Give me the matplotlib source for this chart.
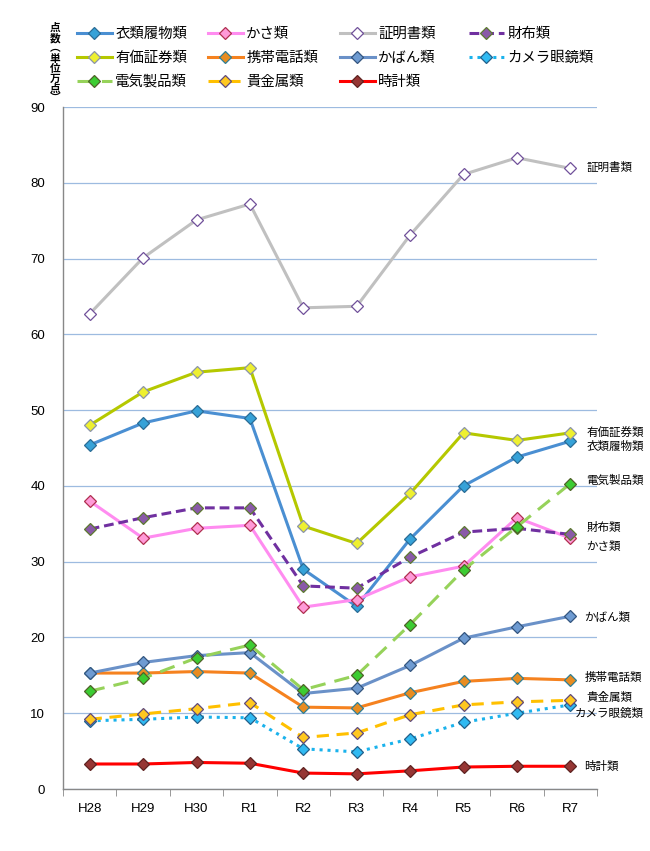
import matplotlib
matplotlib.use("Agg")
import matplotlib.pyplot as plt

plt.rcParams['font.family'] = ['Noto Sans CJK JP', 'DejaVu Sans']

years = ["H28", "H29", "H30", "R1", "R2", "R3", "R4", "R5", "R6", "R7"]

clothing = [45.4, 48.3, 49.9, 48.9, 29.0, 24.1, 33.0, 40.0, 43.8, 45.9]
umbrella = [38.0, 33.1, 34.4, 34.8, 24.0, 25.0, 28.0, 29.4, 35.8, 33.1]
certificates = [62.7, 70.1, 75.1, 77.2, 63.5, 63.7, 73.1, 81.1, 83.3, 81.9]
wallets = [34.3, 35.8, 37.1, 37.1, 26.8, 26.5, 30.6, 33.9, 34.4, 33.6]
securities = [48.0, 52.4, 55.0, 55.6, 34.7, 32.4, 39.0, 47.0, 46.0, 47.0]
phones = [15.3, 15.3, 15.5, 15.3, 10.8, 10.7, 12.7, 14.2, 14.6, 14.4]
bags = [15.3, 16.7, 17.6, 18.0, 12.6, 13.3, 16.3, 19.9, 21.4, 22.8]
cameras = [9.0, 9.2, 9.5, 9.4, 5.3, 4.9, 6.6, 8.8, 10.0, 11.1]
electrics = [12.9, 14.6, 17.3, 19.0, 13.1, 15.0, 21.7, 28.9, 34.6, 40.3]
precious = [9.2, 9.9, 10.6, 11.4, 6.8, 7.4, 9.8, 11.1, 11.5, 11.7]
watches = [3.3, 3.3, 3.5, 3.4, 2.1, 2.0, 2.4, 2.9, 3.0, 3.0]

# name, values, line color, linestyle, marker face, marker edge, right label offset (pts)
series = [
    ("衣類履物類", clothing, "#4a8fd2", "-", "#36a2d8", "#2a6c96", -4),
    ("かさ類", umbrella, "#ff8cf0", "-", "#ff9ad8", "#b03050", -5),
    ("証明書類", certificates, "#c0c0c0", "-", "#ffffff", "#70509a", 1),
    ("財布類", wallets, "#7030a0", (0, (3.2, 1.6)), "#8a5aa8", "#5c7a30", 5),
    ("有価証券類", securities, "#b5c800", "-", "#eef030", "#8c94a8", 0),
    ("携帯電話類", phones, "#f5821f", "-", "#e88c20", "#2e7f96", 2),
    ("かばん類", bags, "#6a91c8", "-", "#6e9bd2", "#33557f", 0),
    ("カメラ眼鏡類", cameras, "#1ab2ec", (0, (1, 1.6)), "#30baf2", "#22608a", -6),
    ("電気製品類", electrics, "#96d25a", (0, (5, 3)), "#3ccc32", "#4f6228", 2),
    ("貴金属類", precious, "#ffc000", (0, (4, 2.5)), "#ffc820", "#604a7b", 2),
    ("時計類", watches, "#ff0000", "-", "#963634", "#5e2220", 0),
]

label_dx = {"カメラ眼鏡類": 3, "時計類": 10, "かばん類": 10, "携帯電話類": 10}

fig = plt.figure(figsize=(6.5, 8.51), dpi=100)
ax = fig.add_axes([63 / 650, 1 - 789 / 851, (597 - 63) / 650, (789 - 107) / 851])

x = list(range(len(years)))
handles = {}
for name, vals, lc, ls, mf, me, dy in series:
    ln, = ax.plot(x, vals, color=lc, linestyle=ls, linewidth=2.2,
                  marker="D", markersize=6, markerfacecolor=mf,
                  markeredgecolor=me, markeredgewidth=0.9, label=name,
                  zorder=3)
    handles[name] = ln
    ax.annotate(name, xy=(x[-1], vals[-1]),
                xytext=(label_dx.get(name, 11.5), dy), textcoords="offset points",
                ha="left", va="center", fontsize=8.3, color="#000000",
                annotation_clip=False)

ax.set_xlim(-0.5, len(years) - 0.5)
ax.set_ylim(0, 90)
ax.set_yticks(range(0, 91, 10))
ax.set_xticks(x)
ax.set_xticklabels(years)
ax.set_xticks([i - 0.5 for i in range(len(years) + 1)], minor=True)
ax.tick_params(axis="x", which="major", length=0, pad=10, labelsize=9.5)
ax.tick_params(axis="x", which="minor", length=5, color="#888888", direction="out")
ax.tick_params(axis="y", length=0, labelsize=9.5, pad=13)
for lab in ax.get_xticklabels() + ax.get_yticklabels():
    lab.set_family(["Liberation Sans", "DejaVu Sans"])

ax.grid(axis="y", color="#9dbbe0", linewidth=0.9)
ax.set_axisbelow(True)
for s in ["top", "right"]:
    ax.spines[s].set_visible(False)
for s in ["left", "bottom"]:
    ax.spines[s].set_color("#888888")
    ax.spines[s].set_linewidth(1.0)

# legend: four columns, each placed separately
cols = [["衣類履物類", "有価証券類", "電気製品類"],
        ["かさ類", "携帯電話類", "貴金属類"],
        ["証明書類", "かばん類", "時計類"],
        ["財布類", "カメラ眼鏡類"]]
col_x = [77, 208, 340, 469]
for cx, names in zip(col_x, cols):
    fig.legend([handles[n] for n in names], names,
               loc="upper left", bbox_to_anchor=(cx / 650, 1 - 27 / 851),
               frameon=False, fontsize=10.4, handlelength=2.4,
               handletextpad=0.25, labelspacing=0.68, borderpad=0,
               borderaxespad=0)

ylab = "\n".join(["点", "数", "︵", "単", "位", "万", "点", "︶"])
fig.text(55 / 650, 1 - 23 / 851, ylab, ha="center", va="top", fontsize=7.7,
         fontweight="bold", linespacing=1.0)

fig.savefig("out.png", dpi=100)
